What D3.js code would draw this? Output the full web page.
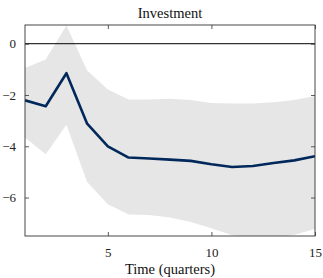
<!DOCTYPE html>
<html>
<head>
<meta charset="utf-8">
<script src="https://cdn.jsdelivr.net/npm/d3@7"></script>
<style>
  body { margin: 0; background: #fff; }
  text { font-family: "Liberation Serif", "DejaVu Serif", serif; }
</style>
</head>
<body>
<div id="chart"></div>
<script>
// impulse response data
var quarters = [1, 2, 3, 4, 5, 6, 7, 8, 9, 10, 11, 12, 13, 14, 15];
var median = [-2.21, -2.44, -1.15, -3.12, -4.0, -4.44, -4.48, -4.52, -4.57, -4.7, -4.81, -4.77, -4.65, -4.55, -4.39];
var upper = [-0.95, -0.62, 0.71, -1.04, -1.79, -2.18, -2.18, -2.15, -2.2, -2.31, -2.33, -2.33, -2.28, -2.2, -2.04];
var lower = [-3.66, -4.31, -3.16, -5.39, -6.26, -6.66, -6.68, -6.78, -6.95, -7.2, -7.47, -7.55, -7.55, -7.45, -7.23];
var xTicks = [5, 10, 15];
var yTicks = [0, -2, -4, -6];

var width = 323, height = 278;
var margin = { top: 25, right: 8, bottom: 42, left: 25 };
var w = width - margin.left - margin.right,
    h = height - margin.top - margin.bottom;

var svg = d3.select("#chart").append("svg")
  .attr("width", width)
  .attr("height", height);

var g = svg.append("g")
  .attr("transform", "translate(" + [margin.left, margin.top] + ")");

var x = d3.scaleLinear().domain([1, 15]).range([0, w]);
var y = d3.scaleLinear().domain([-7.5, 0.73]).range([h, 0]);

svg.append("defs").append("clipPath").attr("id", "clip")
  .append("rect").attr("width", w).attr("height", h);

var plot = g.append("g").attr("clip-path", "url(#clip)");

// confidence band
var area = d3.area()
  .x(function(d, i) { return x(quarters[i]); })
  .y0(function(d, i) { return y(lower[i]); })
  .y1(function(d, i) { return y(upper[i]); });

plot.append("path")
  .datum(quarters)
  .attr("d", area)
  .attr("fill", "#e6e6e6");

// zero line
plot.append("line")
  .attr("x1", 0).attr("x2", w)
  .attr("y1", y(0)).attr("y2", y(0))
  .attr("stroke", "#000")
  .attr("stroke-width", 1);

var line = d3.line()
  .x(function(d, i) { return x(quarters[i]); })
  .y(function(d) { return d; });

plot.append("path")
  .datum(median.map(function(v) { return y(v); }))
  .attr("d", line)
  .attr("fill", "none")
  .attr("stroke", "#00285a")
  .attr("stroke-width", 2.6)
  .attr("stroke-linejoin", "round");

// axes with inward ticks
var tk = 4;
var xb = g.append("g").attr("transform", "translate(0," + h + ")")
  .call(d3.axisBottom(x).tickValues(xTicks).tickSize(-tk).tickPadding(tk + 8));
var xt = g.append("g")
  .call(d3.axisTop(x).tickValues(xTicks).tickSize(-tk).tickFormat(""));
var yl = g.append("g")
  .call(d3.axisLeft(y).tickValues(yTicks).tickSize(-tk).tickPadding(tk + 5));
var yr = g.append("g").attr("transform", "translate(" + w + ",0)")
  .call(d3.axisRight(y).tickValues(yTicks).tickSize(-tk).tickFormat(""));

[xb, xt, yl, yr].forEach(function(a) {
  a.attr("font-family", null);
  a.select(".domain").remove();
  a.selectAll("line").attr("stroke", "#333").attr("stroke-width", 0.8);
  a.selectAll("text").attr("font-size", 13).attr("fill", "#222");
});

// box
g.append("rect")
  .attr("width", w).attr("height", h)
  .attr("fill", "none")
  .attr("stroke", "#333")
  .attr("stroke-width", 0.9);

svg.append("text")
  .attr("x", margin.left + w / 2).attr("y", 18)
  .attr("text-anchor", "middle")
  .attr("font-size", 14.5)
  .attr("fill", "#111")
  .text("Investment");

svg.append("text")
  .attr("x", margin.left + w / 2).attr("y", 274)
  .attr("text-anchor", "middle")
  .attr("font-size", 14.5)
  .attr("fill", "#111")
  .text("Time (quarters)");
</script>
</body>
</html>
